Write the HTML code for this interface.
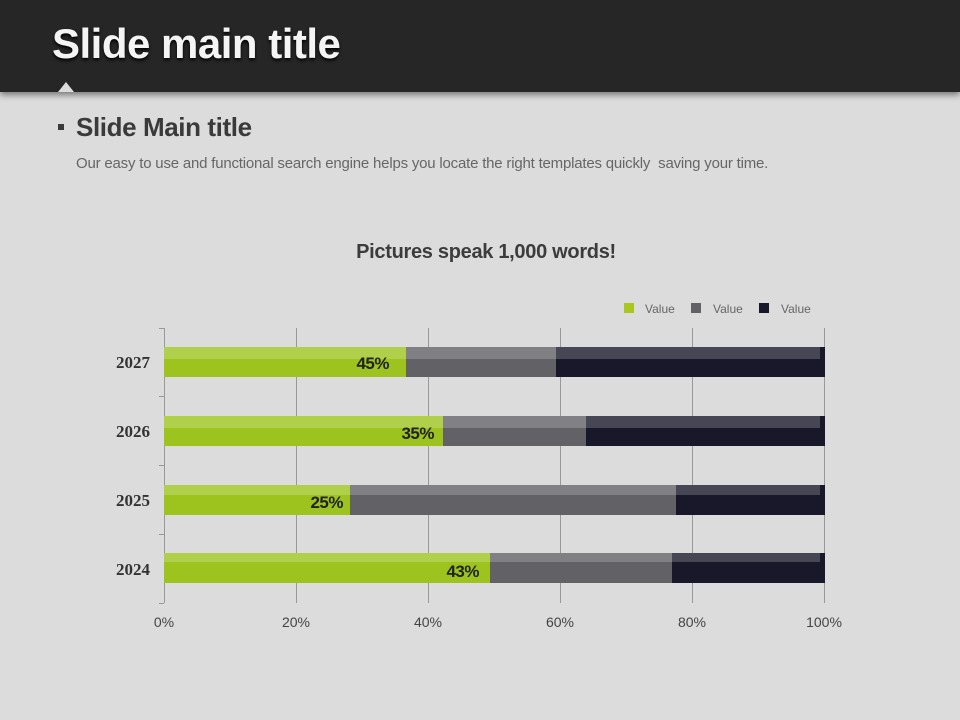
<!DOCTYPE html>
<html><head><style>
body{margin:0;width:960px;height:720px;background:#dcdcdc;font-family:"Liberation Sans",sans-serif;position:relative;overflow:hidden}
.hdr{position:absolute;left:0;top:0;width:960px;height:92px;background:#262626;box-shadow:0 3px 6px rgba(0,0,0,.45)}
.hdr h1{position:absolute;left:52px;top:20px;margin:0;font-size:42px;font-weight:bold;color:#f4f4f4;letter-spacing:-0.5px;text-shadow:0 2px 3px #000}
.tri{position:absolute;left:58px;top:82px;width:0;height:0;border-left:8px solid transparent;border-right:8px solid transparent;border-bottom:10px solid #dcdcdc}
.sub{position:absolute;left:76px;top:112px;font-size:26px;font-weight:bold;color:#3a3a3a;letter-spacing:-0.4px}
.bul{position:absolute;left:58px;top:124px;width:6px;height:6px;background:#3a3a3a}
.desc{position:absolute;left:76px;top:155px;font-size:15px;color:#666;letter-spacing:-0.2px}
.ct{position:absolute;left:0;width:972px;top:241px;text-align:center;font-size:20px;font-weight:bold;color:#3c3c3c;letter-spacing:-0.3px}
.lab{font-family:"Liberation Serif",serif;font-weight:bold;font-size:17px;fill:#333}
</style></head><body>
<div class="hdr"><h1>Slide main title</h1><div class="tri"></div></div>
<div class="bul"></div><div class="sub">Slide Main title</div>
<div class="desc">Our easy to use and functional search engine helps you locate the right templates quickly &nbsp;saving your time.</div>
<div class="ct">Pictures speak 1,000 words!</div>
<svg width="960" height="720" style="position:absolute;left:0;top:0">
<g stroke="#999" stroke-width="1">
<line x1="296.5" y1="328" x2="296.5" y2="603"/><line x1="428.5" y1="328" x2="428.5" y2="603"/>
<line x1="560.5" y1="328" x2="560.5" y2="603"/><line x1="692.5" y1="328" x2="692.5" y2="603"/>
<line x1="824.5" y1="328" x2="824.5" y2="603"/>
<line x1="164.5" y1="328" x2="164.5" y2="603"/>
<line x1="159" y1="328.5" x2="164" y2="328.5"/><line x1="159" y1="396.5" x2="164" y2="396.5"/>
<line x1="159" y1="465.5" x2="164" y2="465.5"/><line x1="159" y1="534.5" x2="164" y2="534.5"/>
<line x1="159" y1="603.5" x2="164" y2="603.5"/>
</g>
<g>
<rect x="164" y="347" width="242" height="30" fill="#9dc41e"/><rect x="406" y="347" width="150" height="30" fill="#616166"/><rect x="556" y="347" width="269" height="30" fill="#19182a"/>
<rect x="164" y="416" width="279" height="30" fill="#9dc41e"/><rect x="443" y="416" width="143" height="30" fill="#616166"/><rect x="586" y="416" width="239" height="30" fill="#19182a"/>
<rect x="164" y="485" width="186" height="30" fill="#9dc41e"/><rect x="350" y="485" width="326" height="30" fill="#616166"/><rect x="676" y="485" width="149" height="30" fill="#19182a"/>
<rect x="164" y="553" width="326" height="30" fill="#9dc41e"/><rect x="490" y="553" width="182" height="30" fill="#616166"/><rect x="672" y="553" width="153" height="30" fill="#19182a"/>
<g fill="#fff" opacity="0.2">
<rect x="164" y="347" width="656" height="12"/><rect x="164" y="416" width="656" height="12"/>
<rect x="164" y="485" width="656" height="10"/><rect x="164" y="553" width="656" height="9"/>
</g>
</g>
<g font-size="17" font-weight="bold" fill="#222" text-anchor="end" letter-spacing="-0.5">
<text x="389" y="369">45%</text><text x="434" y="439">35%</text><text x="343" y="508">25%</text><text x="479" y="577">43%</text>
</g>
<g class="lab" text-anchor="end">
<text x="150" y="368">2027</text><text x="150" y="437">2026</text><text x="150" y="506">2025</text><text x="150" y="575">2024</text>
</g>
<g font-size="14" fill="#444" text-anchor="middle">
<text x="164" y="627">0%</text><text x="296" y="627">20%</text><text x="428" y="627">40%</text><text x="560" y="627">60%</text><text x="692" y="627">80%</text><text x="824" y="627">100%</text>
</g>
<g font-size="12" fill="#666">
<rect x="624" y="303" width="10" height="10" fill="#a9c81f"/><text x="645" y="313">Value</text>
<rect x="691" y="303" width="10" height="10" fill="#616166"/><text x="713" y="313">Value</text>
<rect x="759" y="303" width="10" height="10" fill="#19182a"/><text x="781" y="313">Value</text>
</g>
</svg>
</body></html>
